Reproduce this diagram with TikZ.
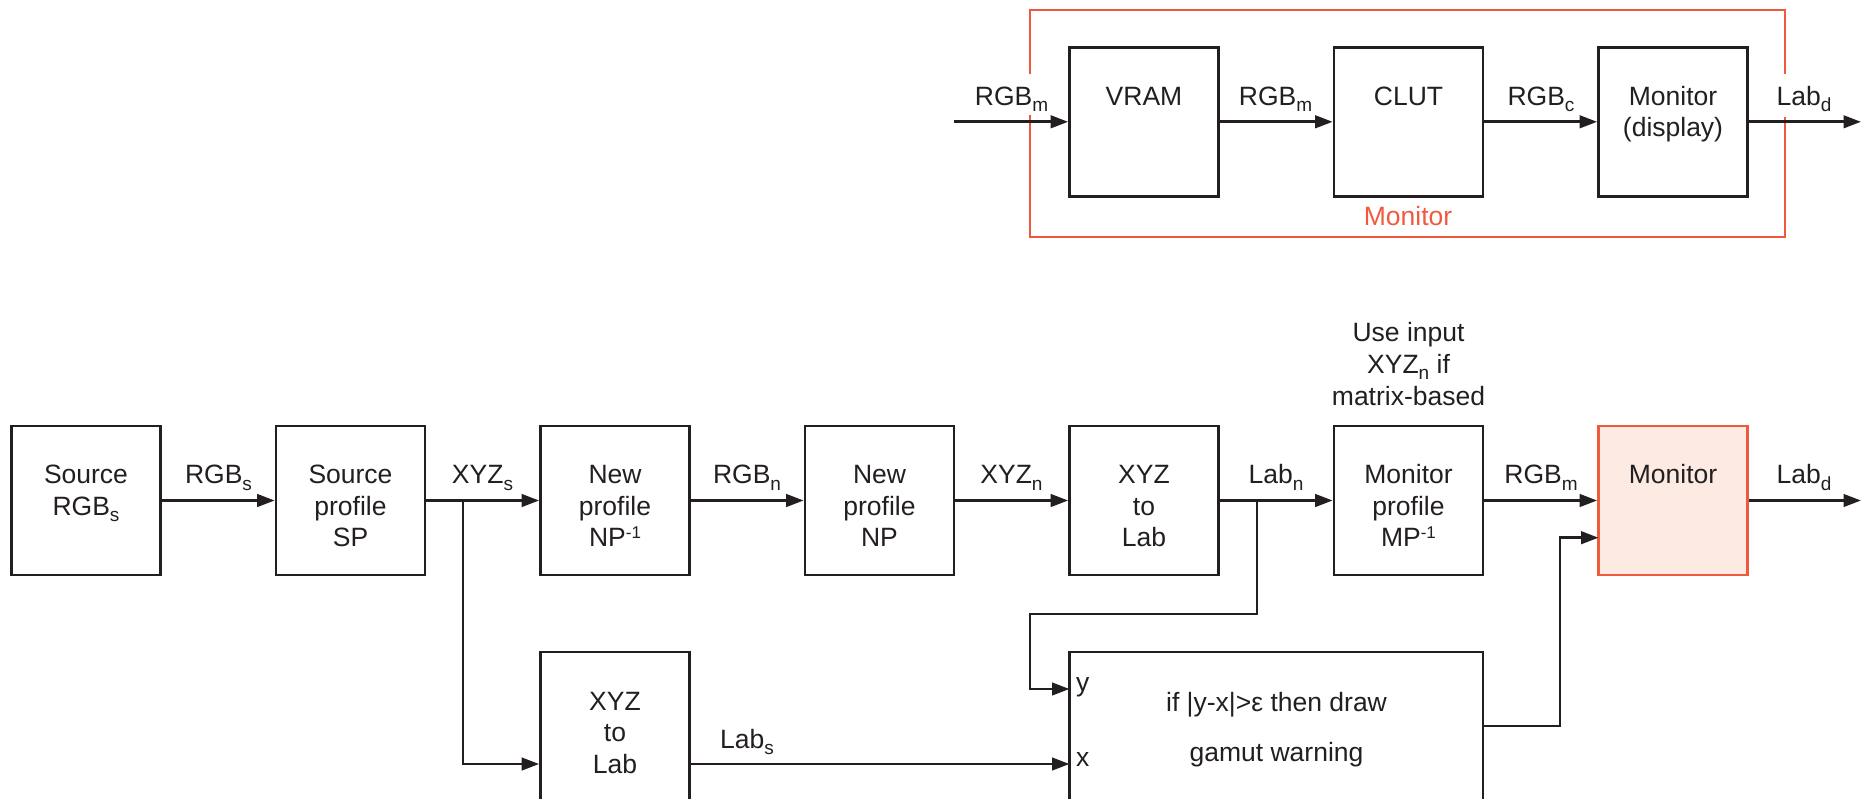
\documentclass[tikz,border=0pt]{standalone}
\usepackage{fontspec}
\setmainfont{Liberation Sans}
\usetikzlibrary{arrows.meta,calc}
\definecolor{mred}{HTML}{EF5A3F}
\definecolor{mfill}{HTML}{FDEAE2}
\definecolor{ink}{HTML}{231F20}
\newcommand\sbs[1]{\raisebox{-6.5pt}{\fontsize{19}{19}\selectfont #1}}
\newcommand\sps[1]{\raisebox{8.5pt}{\fontsize{17}{17}\selectfont #1}}
\newcommand\mlines[1]{\begin{tabular}[t]{@{}c@{}}#1\end{tabular}}
\begin{document}
\begin{tikzpicture}[x=1pt,y=-1pt, color=ink,
  blk/.style={draw=ink, line width=2.7pt, minimum width=149pt, minimum height=149pt, inner sep=0pt},
  txt/.style={inner sep=0pt, anchor=base, text=ink, font={\fontsize{26.5}{31.7}\selectfont}},
  arr/.style={draw=ink, line width=2.7pt, -{Triangle[length=17.5pt,width=12.5pt]}},
  frm/.style={draw=mred, line width=2.5pt}]
\useasboundingbox (0,0) rectangle (1865,798);
\clip (0,0) rectangle (1865,798);

% red frame (with gaps for labels)
\draw[frm] (1030,74) -- (1030,10) -- (1785,10) -- (1785,74);
\draw[frm] (1785,117) -- (1785,237) -- (1030,237) -- (1030,115);
\node[txt, text=mred] (tmonfrm) at (1408,225) {Monitor};

% top row
\node[blk] (vram) at (1144,121.8) {};
\node[blk] (clut) at (1408.5,121.8) {};
\node[blk] (mond) at (1673,121.8) {};
\node[txt] (tvram) at (1144,105) {VRAM};
\node[txt] (tclut) at (1408.5,105) {CLUT};
\node[txt] (tmond) at (1673,105) {\mlines{Monitor\\(display)}};
\coordinate (inT) at (954,121.8);
\coordinate (outT) at (1861,121.8);
\draw[arr] (inT) -- (vram);
\draw[arr] (vram) -- (clut);
\draw[arr] (clut) -- (mond);
\draw[arr] (mond) -- (outT);
\node[txt] (l1) at (1011.5,105) {RGB\sbs{m}};
\node[txt] (l2) at (1275.5,105) {RGB\sbs{m}};
\node[txt] (l3) at (1541,105) {RGB\sbs{c}};
\node[txt] (l4) at (1804,105) {Lab\sbs{d}};

% bottom row
\node[blk] (src) at (86,500.5) {};
\node[blk] (sp) at (350.5,500.5) {};
\node[blk] (np1) at (615,500.5) {};
\node[blk] (np) at (879.5,500.5) {};
\node[blk] (x2l) at (1144,500.5) {};
\node[blk] (mp) at (1408.5,500.5) {};
\node[blk, draw=mred, fill=mfill] (mon) at (1673,500.5) {};
\node[txt] (tsrc) at (86,483.5) {\mlines{Source\\RGB\sbs{s}}};
\node[txt] (tsp) at (350.5,483.5) {\mlines{Source\\profile\\SP}};
\node[txt] (tnp1) at (615,483.5) {\mlines{New\\profile\\NP\sps{-1}}};
\node[txt] (tnp) at (879.5,483.5) {\mlines{New\\profile\\NP}};
\node[txt] (tx2l) at (1144,483.5) {\mlines{XYZ\\to\\Lab}};
\node[txt] (tmp) at (1408.5,483.5) {\mlines{Monitor\\profile\\MP\sps{-1}}};
\node[txt] (tmon) at (1673,483.5) {Monitor};
\node[txt] (tuse) at (1408.5,341.7) {\mlines{Use input\\XYZ\sbs{n} if\\matrix-based}};

\coordinate (outB) at (1861,500.5);
\draw[arr] (src) -- (sp);
\draw[arr] (sp) -- (np1);
\draw[arr] (np1) -- (np);
\draw[arr] (np) -- (x2l);
\draw[arr] (x2l) -- (mp);
\draw[arr] (mp) -- (mon);
\draw[arr] (mon) -- (outB);
\node[txt] (b1) at (218.5,483.5) {RGB\sbs{s}};
\node[txt] (b2) at (482.5,483.5) {XYZ\sbs{s}};
\node[txt] (b3) at (747,483.5) {RGB\sbs{n}};
\node[txt] (b4) at (1011.5,483.5) {XYZ\sbs{n}};
\node[txt] (b5) at (1276,483.5) {Lab\sbs{n}};
\node[txt] (b6) at (1541,483.5) {RGB\sbs{m}};
\node[txt] (b7) at (1804,483.5) {Lab\sbs{d}};

% lower row
\node[blk, minimum height=224pt] (lx2l) at (615,764) {};
\node[blk, minimum width=413.5pt, minimum height=250pt] (gam) at (1276.25,777) {};
\node[txt] (tlx2l) at (615,710) {\mlines{XYZ\\to\\Lab}};
\node[txt] (tgam) at (1276.5,711) {\mlines{if |y-x|>ε then draw\\[19pt]gamut warning}};
\node[txt, anchor=mid west] (ty) at (1076,689) {y};
\node[txt, anchor=mid west] (tx) at (1076,764) {x};
\node[txt] (tlabs) at (747,748) {Lab\sbs{s}};

\coordinate (jx) at (463,500.5);
\coordinate (jl) at (1257,500.5);
\coordinate (k1) at (1030,614);
\coordinate (gy) at (1069.5,689);
\coordinate (gx) at (1069.5,764);
\coordinate (gout) at (1483,726);
\coordinate (kx) at (1560,726);
\coordinate (min2) at (1598.5,537.7);
\draw[arr] (jx) |- (lx2l);
\draw[arr] (lx2l) -- (gx);
\draw[arr] (jl) |- (k1) |- (gy);
\draw[arr] (gout) -- (kx) |- (min2);
\end{tikzpicture}
\end{document}
